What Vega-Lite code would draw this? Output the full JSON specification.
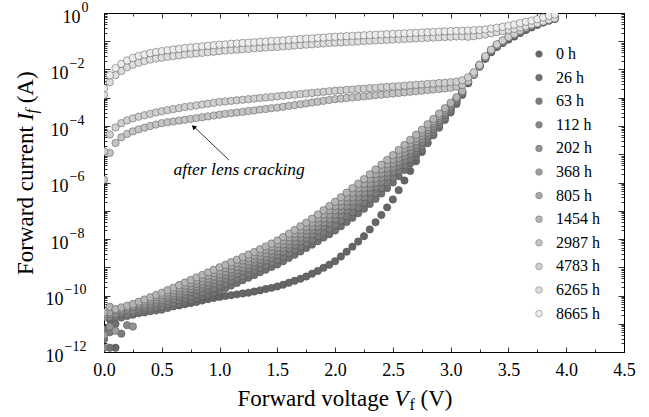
{
  "$schema": "https://vega.github.io/schema/vega-lite/v6.json",
  "width": 520,
  "height": 339,
  "autosize": "none",
  "padding": {"left": 104, "top": 13, "right": 25, "bottom": 65},
  "datasets": {
    "iv": [
{"h":0,"v":0,"lg":-11.3},{"h":0,"v":0.05,"lg":-10.85},{"h":0,"v":0.1,"lg":-11.85},{"h":0,"v":0.15,"lg":-10.7},{"h":0,"v":0.2,"lg":-10.65},{"h":0,"v":0.25,"lg":-10.62},{"h":0,"v":0.3,"lg":-10.58},{"h":0,"v":0.35,"lg":-10.55},{"h":0,"v":0.4,"lg":-10.51},{"h":0,"v":0.45,"lg":-10.48},{"h":0,"v":0.5,"lg":-10.45},{"h":0,"v":0.55,"lg":-10.42},{"h":0,"v":0.6,"lg":-10.38},{"h":0,"v":0.65,"lg":-10.35},{"h":0,"v":0.7,"lg":-10.31},{"h":0,"v":0.75,"lg":-10.27},{"h":0,"v":0.8,"lg":-10.23},{"h":0,"v":0.85,"lg":-10.18},{"h":0,"v":0.9,"lg":-10.13},{"h":0,"v":0.95,"lg":-10.09},{"h":0,"v":1,"lg":-10.05},{"h":0,"v":1.05,"lg":-10.02},{"h":0,"v":1.1,"lg":-9.99},{"h":0,"v":1.15,"lg":-9.96},{"h":0,"v":1.2,"lg":-9.93},{"h":0,"v":1.25,"lg":-9.9},{"h":0,"v":1.3,"lg":-9.86},{"h":0,"v":1.35,"lg":-9.82},{"h":0,"v":1.4,"lg":-9.77},{"h":0,"v":1.45,"lg":-9.73},{"h":0,"v":1.5,"lg":-9.68},{"h":0,"v":1.55,"lg":-9.62},{"h":0,"v":1.6,"lg":-9.55},{"h":0,"v":1.65,"lg":-9.48},{"h":0,"v":1.7,"lg":-9.41},{"h":0,"v":1.75,"lg":-9.33},{"h":0,"v":1.8,"lg":-9.23},{"h":0,"v":1.85,"lg":-9.13},{"h":0,"v":1.9,"lg":-9.02},{"h":0,"v":1.95,"lg":-8.91},{"h":0,"v":2,"lg":-8.79},{"h":0,"v":2.05,"lg":-8.62},{"h":0,"v":2.1,"lg":-8.45},{"h":0,"v":2.15,"lg":-8.27},{"h":0,"v":2.2,"lg":-8.09},{"h":0,"v":2.25,"lg":-7.9},{"h":0,"v":2.3,"lg":-7.66},{"h":0,"v":2.35,"lg":-7.41},{"h":0,"v":2.4,"lg":-7.15},{"h":0,"v":2.45,"lg":-6.88},{"h":0,"v":2.5,"lg":-6.6},{"h":0,"v":2.55,"lg":-6.27},{"h":0,"v":2.6,"lg":-5.93},{"h":0,"v":2.65,"lg":-5.59},{"h":0,"v":2.7,"lg":-5.25},{"h":0,"v":2.75,"lg":-4.92},{"h":0,"v":2.8,"lg":-4.6},{"h":0,"v":2.85,"lg":-4.29},{"h":0,"v":2.9,"lg":-3.99},{"h":0,"v":2.95,"lg":-3.69},{"h":0,"v":3,"lg":-3.4},{"h":0,"v":3.05,"lg":-3.1},{"h":0,"v":3.1,"lg":-2.8},{"h":0,"v":3.15,"lg":-2.49},{"h":0,"v":3.2,"lg":-2.19},{"h":0,"v":3.25,"lg":-1.9},{"h":0,"v":3.3,"lg":-1.62},{"h":0,"v":3.35,"lg":-1.39},{"h":0,"v":3.4,"lg":-1.2},{"h":0,"v":3.45,"lg":-1.06},{"h":0,"v":3.5,"lg":-0.94},{"h":0,"v":3.55,"lg":-0.83},{"h":0,"v":3.6,"lg":-0.71},{"h":0,"v":3.65,"lg":-0.6},{"h":0,"v":3.7,"lg":-0.51},{"h":0,"v":3.75,"lg":-0.42},{"h":0,"v":3.8,"lg":-0.34},{"h":0,"v":3.85,"lg":-0.27},{"h":0,"v":3.9,"lg":-0.21},
{"h":26,"v":0,"lg":-11.55},{"h":26,"v":0.05,"lg":-11.85},{"h":26,"v":0.1,"lg":-11.0},{"h":26,"v":0.15,"lg":-10.78},{"h":26,"v":0.2,"lg":-10.73},{"h":26,"v":0.25,"lg":-10.68},{"h":26,"v":0.3,"lg":-10.63},{"h":26,"v":0.35,"lg":-10.6},{"h":26,"v":0.4,"lg":-10.56},{"h":26,"v":0.45,"lg":-10.53},{"h":26,"v":0.5,"lg":-10.5},{"h":26,"v":0.55,"lg":-10.44},{"h":26,"v":0.6,"lg":-10.38},{"h":26,"v":0.65,"lg":-10.31},{"h":26,"v":0.7,"lg":-10.24},{"h":26,"v":0.75,"lg":-10.17},{"h":26,"v":0.8,"lg":-10.1},{"h":26,"v":0.85,"lg":-10.03},{"h":26,"v":0.9,"lg":-9.96},{"h":26,"v":0.95,"lg":-9.9},{"h":26,"v":1,"lg":-9.83},{"h":26,"v":1.05,"lg":-9.74},{"h":26,"v":1.1,"lg":-9.65},{"h":26,"v":1.15,"lg":-9.56},{"h":26,"v":1.2,"lg":-9.46},{"h":26,"v":1.25,"lg":-9.37},{"h":26,"v":1.3,"lg":-9.28},{"h":26,"v":1.35,"lg":-9.18},{"h":26,"v":1.4,"lg":-9.09},{"h":26,"v":1.45,"lg":-8.99},{"h":26,"v":1.5,"lg":-8.9},{"h":26,"v":1.55,"lg":-8.79},{"h":26,"v":1.6,"lg":-8.67},{"h":26,"v":1.65,"lg":-8.56},{"h":26,"v":1.7,"lg":-8.44},{"h":26,"v":1.75,"lg":-8.32},{"h":26,"v":1.8,"lg":-8.2},{"h":26,"v":1.85,"lg":-8.08},{"h":26,"v":1.9,"lg":-7.95},{"h":26,"v":1.95,"lg":-7.83},{"h":26,"v":2,"lg":-7.7},{"h":26,"v":2.05,"lg":-7.55},{"h":26,"v":2.1,"lg":-7.4},{"h":26,"v":2.15,"lg":-7.25},{"h":26,"v":2.2,"lg":-7.09},{"h":26,"v":2.25,"lg":-6.93},{"h":26,"v":2.3,"lg":-6.76},{"h":26,"v":2.35,"lg":-6.58},{"h":26,"v":2.4,"lg":-6.39},{"h":26,"v":2.45,"lg":-6.2},{"h":26,"v":2.5,"lg":-6.0},{"h":26,"v":2.55,"lg":-5.78},{"h":26,"v":2.6,"lg":-5.56},{"h":26,"v":2.65,"lg":-5.33},{"h":26,"v":2.7,"lg":-5.1},{"h":26,"v":2.75,"lg":-4.86},{"h":26,"v":2.8,"lg":-4.6},{"h":26,"v":2.85,"lg":-4.33},{"h":26,"v":2.9,"lg":-4.06},{"h":26,"v":2.95,"lg":-3.79},{"h":26,"v":3,"lg":-3.52},{"h":26,"v":3.05,"lg":-3.22},{"h":26,"v":3.1,"lg":-2.9},{"h":26,"v":3.15,"lg":-2.48},{"h":26,"v":3.2,"lg":-2.18},{"h":26,"v":3.25,"lg":-1.89},{"h":26,"v":3.3,"lg":-1.61},{"h":26,"v":3.35,"lg":-1.38},{"h":26,"v":3.4,"lg":-1.19},{"h":26,"v":3.45,"lg":-1.05},{"h":26,"v":3.5,"lg":-0.93},{"h":26,"v":3.55,"lg":-0.82},{"h":26,"v":3.6,"lg":-0.7},{"h":26,"v":3.65,"lg":-0.59},{"h":26,"v":3.7,"lg":-0.5},{"h":26,"v":3.75,"lg":-0.41},{"h":26,"v":3.8,"lg":-0.33},{"h":26,"v":3.85,"lg":-0.26},{"h":26,"v":3.9,"lg":-0.2},
{"h":63,"v":0,"lg":-11.2},{"h":63,"v":0.05,"lg":-11.3},{"h":63,"v":0.1,"lg":-10.77},{"h":63,"v":0.15,"lg":-11.35},{"h":63,"v":0.2,"lg":-10.66},{"h":63,"v":0.25,"lg":-10.6},{"h":63,"v":0.3,"lg":-10.55},{"h":63,"v":0.35,"lg":-10.51},{"h":63,"v":0.4,"lg":-10.46},{"h":63,"v":0.45,"lg":-10.42},{"h":63,"v":0.5,"lg":-10.38},{"h":63,"v":0.55,"lg":-10.31},{"h":63,"v":0.6,"lg":-10.25},{"h":63,"v":0.65,"lg":-10.17},{"h":63,"v":0.7,"lg":-10.1},{"h":63,"v":0.75,"lg":-10.03},{"h":63,"v":0.8,"lg":-9.95},{"h":63,"v":0.85,"lg":-9.88},{"h":63,"v":0.9,"lg":-9.8},{"h":63,"v":0.95,"lg":-9.74},{"h":63,"v":1,"lg":-9.66},{"h":63,"v":1.05,"lg":-9.57},{"h":63,"v":1.1,"lg":-9.48},{"h":63,"v":1.15,"lg":-9.39},{"h":63,"v":1.2,"lg":-9.3},{"h":63,"v":1.25,"lg":-9.21},{"h":63,"v":1.3,"lg":-9.12},{"h":63,"v":1.35,"lg":-9.02},{"h":63,"v":1.4,"lg":-8.92},{"h":63,"v":1.45,"lg":-8.82},{"h":63,"v":1.5,"lg":-8.73},{"h":63,"v":1.55,"lg":-8.62},{"h":63,"v":1.6,"lg":-8.5},{"h":63,"v":1.65,"lg":-8.38},{"h":63,"v":1.7,"lg":-8.26},{"h":63,"v":1.75,"lg":-8.14},{"h":63,"v":1.8,"lg":-8.02},{"h":63,"v":1.85,"lg":-7.89},{"h":63,"v":1.9,"lg":-7.76},{"h":63,"v":1.95,"lg":-7.63},{"h":63,"v":2,"lg":-7.5},{"h":63,"v":2.05,"lg":-7.34},{"h":63,"v":2.1,"lg":-7.19},{"h":63,"v":2.15,"lg":-7.04},{"h":63,"v":2.2,"lg":-6.88},{"h":63,"v":2.25,"lg":-6.72},{"h":63,"v":2.3,"lg":-6.55},{"h":63,"v":2.35,"lg":-6.37},{"h":63,"v":2.4,"lg":-6.19},{"h":63,"v":2.45,"lg":-6.0},{"h":63,"v":2.5,"lg":-5.81},{"h":63,"v":2.55,"lg":-5.59},{"h":63,"v":2.6,"lg":-5.38},{"h":63,"v":2.65,"lg":-5.16},{"h":63,"v":2.7,"lg":-4.94},{"h":63,"v":2.75,"lg":-4.71},{"h":63,"v":2.8,"lg":-4.47},{"h":63,"v":2.85,"lg":-4.21},{"h":63,"v":2.9,"lg":-3.96},{"h":63,"v":2.95,"lg":-3.71},{"h":63,"v":3,"lg":-3.45},{"h":63,"v":3.05,"lg":-3.17},{"h":63,"v":3.1,"lg":-2.87},{"h":63,"v":3.15,"lg":-2.47},{"h":63,"v":3.2,"lg":-2.17},{"h":63,"v":3.25,"lg":-1.88},{"h":63,"v":3.3,"lg":-1.6},{"h":63,"v":3.35,"lg":-1.37},{"h":63,"v":3.4,"lg":-1.18},{"h":63,"v":3.45,"lg":-1.04},{"h":63,"v":3.5,"lg":-0.92},{"h":63,"v":3.55,"lg":-0.81},{"h":63,"v":3.6,"lg":-0.69},{"h":63,"v":3.65,"lg":-0.58},{"h":63,"v":3.7,"lg":-0.49},{"h":63,"v":3.75,"lg":-0.4},{"h":63,"v":3.8,"lg":-0.32},{"h":63,"v":3.85,"lg":-0.25},{"h":63,"v":3.9,"lg":-0.19},
{"h":112,"v":0,"lg":-11.85},{"h":112,"v":0.05,"lg":-10.76},{"h":112,"v":0.1,"lg":-10.7},{"h":112,"v":0.15,"lg":-10.64},{"h":112,"v":0.2,"lg":-11.05},{"h":112,"v":0.25,"lg":-10.53},{"h":112,"v":0.3,"lg":-10.47},{"h":112,"v":0.35,"lg":-10.42},{"h":112,"v":0.4,"lg":-10.36},{"h":112,"v":0.45,"lg":-10.31},{"h":112,"v":0.5,"lg":-10.26},{"h":112,"v":0.55,"lg":-10.19},{"h":112,"v":0.6,"lg":-10.12},{"h":112,"v":0.65,"lg":-10.04},{"h":112,"v":0.7,"lg":-9.96},{"h":112,"v":0.75,"lg":-9.88},{"h":112,"v":0.8,"lg":-9.8},{"h":112,"v":0.85,"lg":-9.73},{"h":112,"v":0.9,"lg":-9.65},{"h":112,"v":0.95,"lg":-9.58},{"h":112,"v":1,"lg":-9.5},{"h":112,"v":1.05,"lg":-9.41},{"h":112,"v":1.1,"lg":-9.32},{"h":112,"v":1.15,"lg":-9.23},{"h":112,"v":1.2,"lg":-9.13},{"h":112,"v":1.25,"lg":-9.04},{"h":112,"v":1.3,"lg":-8.95},{"h":112,"v":1.35,"lg":-8.85},{"h":112,"v":1.4,"lg":-8.76},{"h":112,"v":1.45,"lg":-8.66},{"h":112,"v":1.5,"lg":-8.56},{"h":112,"v":1.55,"lg":-8.45},{"h":112,"v":1.6,"lg":-8.33},{"h":112,"v":1.65,"lg":-8.21},{"h":112,"v":1.7,"lg":-8.08},{"h":112,"v":1.75,"lg":-7.96},{"h":112,"v":1.8,"lg":-7.83},{"h":112,"v":1.85,"lg":-7.7},{"h":112,"v":1.9,"lg":-7.56},{"h":112,"v":1.95,"lg":-7.43},{"h":112,"v":2,"lg":-7.29},{"h":112,"v":2.05,"lg":-7.14},{"h":112,"v":2.1,"lg":-6.98},{"h":112,"v":2.15,"lg":-6.83},{"h":112,"v":2.2,"lg":-6.67},{"h":112,"v":2.25,"lg":-6.51},{"h":112,"v":2.3,"lg":-6.34},{"h":112,"v":2.35,"lg":-6.16},{"h":112,"v":2.4,"lg":-5.98},{"h":112,"v":2.45,"lg":-5.8},{"h":112,"v":2.5,"lg":-5.61},{"h":112,"v":2.55,"lg":-5.41},{"h":112,"v":2.6,"lg":-5.2},{"h":112,"v":2.65,"lg":-4.99},{"h":112,"v":2.7,"lg":-4.78},{"h":112,"v":2.75,"lg":-4.57},{"h":112,"v":2.8,"lg":-4.34},{"h":112,"v":2.85,"lg":-4.1},{"h":112,"v":2.9,"lg":-3.86},{"h":112,"v":2.95,"lg":-3.62},{"h":112,"v":3,"lg":-3.38},{"h":112,"v":3.05,"lg":-3.12},{"h":112,"v":3.1,"lg":-2.84},{"h":112,"v":3.15,"lg":-2.46},{"h":112,"v":3.2,"lg":-2.16},{"h":112,"v":3.25,"lg":-1.87},{"h":112,"v":3.3,"lg":-1.59},{"h":112,"v":3.35,"lg":-1.36},{"h":112,"v":3.4,"lg":-1.17},{"h":112,"v":3.45,"lg":-1.03},{"h":112,"v":3.5,"lg":-0.91},{"h":112,"v":3.55,"lg":-0.8},{"h":112,"v":3.6,"lg":-0.68},{"h":112,"v":3.65,"lg":-0.57},{"h":112,"v":3.7,"lg":-0.48},{"h":112,"v":3.75,"lg":-0.39},{"h":112,"v":3.8,"lg":-0.31},{"h":112,"v":3.85,"lg":-0.24},{"h":112,"v":3.9,"lg":-0.18},
{"h":202,"v":0,"lg":-10.76},{"h":202,"v":0.05,"lg":-11.1},{"h":202,"v":0.1,"lg":-10.64},{"h":202,"v":0.15,"lg":-10.58},{"h":202,"v":0.2,"lg":-10.53},{"h":202,"v":0.25,"lg":-11.1},{"h":202,"v":0.3,"lg":-10.4},{"h":202,"v":0.35,"lg":-10.35},{"h":202,"v":0.4,"lg":-10.29},{"h":202,"v":0.45,"lg":-10.23},{"h":202,"v":0.5,"lg":-10.17},{"h":202,"v":0.55,"lg":-10.09},{"h":202,"v":0.6,"lg":-10.02},{"h":202,"v":0.65,"lg":-9.94},{"h":202,"v":0.7,"lg":-9.86},{"h":202,"v":0.75,"lg":-9.77},{"h":202,"v":0.8,"lg":-9.69},{"h":202,"v":0.85,"lg":-9.61},{"h":202,"v":0.9,"lg":-9.53},{"h":202,"v":0.95,"lg":-9.45},{"h":202,"v":1,"lg":-9.37},{"h":202,"v":1.05,"lg":-9.28},{"h":202,"v":1.1,"lg":-9.19},{"h":202,"v":1.15,"lg":-9.1},{"h":202,"v":1.2,"lg":-9.01},{"h":202,"v":1.25,"lg":-8.92},{"h":202,"v":1.3,"lg":-8.83},{"h":202,"v":1.35,"lg":-8.73},{"h":202,"v":1.4,"lg":-8.63},{"h":202,"v":1.45,"lg":-8.53},{"h":202,"v":1.5,"lg":-8.43},{"h":202,"v":1.55,"lg":-8.32},{"h":202,"v":1.6,"lg":-8.2},{"h":202,"v":1.65,"lg":-8.08},{"h":202,"v":1.7,"lg":-7.95},{"h":202,"v":1.75,"lg":-7.83},{"h":202,"v":1.8,"lg":-7.69},{"h":202,"v":1.85,"lg":-7.56},{"h":202,"v":1.9,"lg":-7.42},{"h":202,"v":1.95,"lg":-7.28},{"h":202,"v":2,"lg":-7.14},{"h":202,"v":2.05,"lg":-6.98},{"h":202,"v":2.1,"lg":-6.83},{"h":202,"v":2.15,"lg":-6.67},{"h":202,"v":2.2,"lg":-6.51},{"h":202,"v":2.25,"lg":-6.35},{"h":202,"v":2.3,"lg":-6.18},{"h":202,"v":2.35,"lg":-6.01},{"h":202,"v":2.4,"lg":-5.83},{"h":202,"v":2.45,"lg":-5.65},{"h":202,"v":2.5,"lg":-5.47},{"h":202,"v":2.55,"lg":-5.27},{"h":202,"v":2.6,"lg":-5.07},{"h":202,"v":2.65,"lg":-4.87},{"h":202,"v":2.7,"lg":-4.67},{"h":202,"v":2.75,"lg":-4.46},{"h":202,"v":2.8,"lg":-4.24},{"h":202,"v":2.85,"lg":-4.01},{"h":202,"v":2.9,"lg":-3.79},{"h":202,"v":2.95,"lg":-3.56},{"h":202,"v":3,"lg":-3.33},{"h":202,"v":3.05,"lg":-3.09},{"h":202,"v":3.1,"lg":-2.82},{"h":202,"v":3.15,"lg":-2.45},{"h":202,"v":3.2,"lg":-2.15},{"h":202,"v":3.25,"lg":-1.86},{"h":202,"v":3.3,"lg":-1.58},{"h":202,"v":3.35,"lg":-1.35},{"h":202,"v":3.4,"lg":-1.16},{"h":202,"v":3.45,"lg":-1.02},{"h":202,"v":3.5,"lg":-0.9},{"h":202,"v":3.55,"lg":-0.79},{"h":202,"v":3.6,"lg":-0.67},{"h":202,"v":3.65,"lg":-0.56},{"h":202,"v":3.7,"lg":-0.47},{"h":202,"v":3.75,"lg":-0.38},{"h":202,"v":3.8,"lg":-0.3},{"h":202,"v":3.85,"lg":-0.23},{"h":202,"v":3.9,"lg":-0.17},
{"h":368,"v":0,"lg":-11.4},{"h":368,"v":0.05,"lg":-10.65},{"h":368,"v":0.1,"lg":-11.25},{"h":368,"v":0.15,"lg":-10.53},{"h":368,"v":0.2,"lg":-10.47},{"h":368,"v":0.25,"lg":-10.41},{"h":368,"v":0.3,"lg":-10.34},{"h":368,"v":0.35,"lg":-10.28},{"h":368,"v":0.4,"lg":-10.21},{"h":368,"v":0.45,"lg":-10.15},{"h":368,"v":0.5,"lg":-10.08},{"h":368,"v":0.55,"lg":-10.0},{"h":368,"v":0.6,"lg":-9.92},{"h":368,"v":0.65,"lg":-9.83},{"h":368,"v":0.7,"lg":-9.75},{"h":368,"v":0.75,"lg":-9.67},{"h":368,"v":0.8,"lg":-9.58},{"h":368,"v":0.85,"lg":-9.5},{"h":368,"v":0.9,"lg":-9.41},{"h":368,"v":0.95,"lg":-9.33},{"h":368,"v":1,"lg":-9.25},{"h":368,"v":1.05,"lg":-9.16},{"h":368,"v":1.1,"lg":-9.07},{"h":368,"v":1.15,"lg":-8.98},{"h":368,"v":1.2,"lg":-8.89},{"h":368,"v":1.25,"lg":-8.8},{"h":368,"v":1.3,"lg":-8.71},{"h":368,"v":1.35,"lg":-8.61},{"h":368,"v":1.4,"lg":-8.51},{"h":368,"v":1.45,"lg":-8.41},{"h":368,"v":1.5,"lg":-8.31},{"h":368,"v":1.55,"lg":-8.19},{"h":368,"v":1.6,"lg":-8.07},{"h":368,"v":1.65,"lg":-7.94},{"h":368,"v":1.7,"lg":-7.82},{"h":368,"v":1.75,"lg":-7.69},{"h":368,"v":1.8,"lg":-7.56},{"h":368,"v":1.85,"lg":-7.42},{"h":368,"v":1.9,"lg":-7.27},{"h":368,"v":1.95,"lg":-7.13},{"h":368,"v":2,"lg":-6.99},{"h":368,"v":2.05,"lg":-6.83},{"h":368,"v":2.1,"lg":-6.67},{"h":368,"v":2.15,"lg":-6.52},{"h":368,"v":2.2,"lg":-6.36},{"h":368,"v":2.25,"lg":-6.2},{"h":368,"v":2.3,"lg":-6.03},{"h":368,"v":2.35,"lg":-5.85},{"h":368,"v":2.4,"lg":-5.68},{"h":368,"v":2.45,"lg":-5.5},{"h":368,"v":2.5,"lg":-5.32},{"h":368,"v":2.55,"lg":-5.13},{"h":368,"v":2.6,"lg":-4.94},{"h":368,"v":2.65,"lg":-4.74},{"h":368,"v":2.7,"lg":-4.55},{"h":368,"v":2.75,"lg":-4.35},{"h":368,"v":2.8,"lg":-4.14},{"h":368,"v":2.85,"lg":-3.92},{"h":368,"v":2.9,"lg":-3.71},{"h":368,"v":2.95,"lg":-3.5},{"h":368,"v":3,"lg":-3.28},{"h":368,"v":3.05,"lg":-3.05},{"h":368,"v":3.1,"lg":-2.8},{"h":368,"v":3.15,"lg":-2.44},{"h":368,"v":3.2,"lg":-2.14},{"h":368,"v":3.25,"lg":-1.85},{"h":368,"v":3.3,"lg":-1.57},{"h":368,"v":3.35,"lg":-1.34},{"h":368,"v":3.4,"lg":-1.15},{"h":368,"v":3.45,"lg":-1.01},{"h":368,"v":3.5,"lg":-0.89},{"h":368,"v":3.55,"lg":-0.78},{"h":368,"v":3.6,"lg":-0.66},{"h":368,"v":3.65,"lg":-0.55},{"h":368,"v":3.7,"lg":-0.46},{"h":368,"v":3.75,"lg":-0.37},{"h":368,"v":3.8,"lg":-0.29},{"h":368,"v":3.85,"lg":-0.22},{"h":368,"v":3.9,"lg":-0.16},
{"h":805,"v":0,"lg":-10.65},{"h":805,"v":0.05,"lg":-10.59},{"h":805,"v":0.1,"lg":-10.53},{"h":805,"v":0.15,"lg":-10.47},{"h":805,"v":0.2,"lg":-10.42},{"h":805,"v":0.25,"lg":-10.36},{"h":805,"v":0.3,"lg":-10.28},{"h":805,"v":0.35,"lg":-10.21},{"h":805,"v":0.4,"lg":-10.14},{"h":805,"v":0.45,"lg":-10.06},{"h":805,"v":0.5,"lg":-9.99},{"h":805,"v":0.55,"lg":-9.9},{"h":805,"v":0.6,"lg":-9.82},{"h":805,"v":0.65,"lg":-9.73},{"h":805,"v":0.7,"lg":-9.65},{"h":805,"v":0.75,"lg":-9.56},{"h":805,"v":0.8,"lg":-9.47},{"h":805,"v":0.85,"lg":-9.38},{"h":805,"v":0.9,"lg":-9.3},{"h":805,"v":0.95,"lg":-9.21},{"h":805,"v":1,"lg":-9.12},{"h":805,"v":1.05,"lg":-9.03},{"h":805,"v":1.1,"lg":-8.94},{"h":805,"v":1.15,"lg":-8.85},{"h":805,"v":1.2,"lg":-8.76},{"h":805,"v":1.25,"lg":-8.67},{"h":805,"v":1.3,"lg":-8.58},{"h":805,"v":1.35,"lg":-8.48},{"h":805,"v":1.4,"lg":-8.38},{"h":805,"v":1.45,"lg":-8.28},{"h":805,"v":1.5,"lg":-8.18},{"h":805,"v":1.55,"lg":-8.06},{"h":805,"v":1.6,"lg":-7.94},{"h":805,"v":1.65,"lg":-7.81},{"h":805,"v":1.7,"lg":-7.68},{"h":805,"v":1.75,"lg":-7.56},{"h":805,"v":1.8,"lg":-7.42},{"h":805,"v":1.85,"lg":-7.27},{"h":805,"v":1.9,"lg":-7.13},{"h":805,"v":1.95,"lg":-6.98},{"h":805,"v":2,"lg":-6.83},{"h":805,"v":2.05,"lg":-6.67},{"h":805,"v":2.1,"lg":-6.52},{"h":805,"v":2.15,"lg":-6.36},{"h":805,"v":2.2,"lg":-6.2},{"h":805,"v":2.25,"lg":-6.04},{"h":805,"v":2.3,"lg":-5.87},{"h":805,"v":2.35,"lg":-5.7},{"h":805,"v":2.4,"lg":-5.52},{"h":805,"v":2.45,"lg":-5.35},{"h":805,"v":2.5,"lg":-5.18},{"h":805,"v":2.55,"lg":-4.99},{"h":805,"v":2.6,"lg":-4.8},{"h":805,"v":2.65,"lg":-4.62},{"h":805,"v":2.7,"lg":-4.43},{"h":805,"v":2.75,"lg":-4.24},{"h":805,"v":2.8,"lg":-4.04},{"h":805,"v":2.85,"lg":-3.84},{"h":805,"v":2.9,"lg":-3.64},{"h":805,"v":2.95,"lg":-3.43},{"h":805,"v":3,"lg":-3.23},{"h":805,"v":3.05,"lg":-3.02},{"h":805,"v":3.1,"lg":-2.78},{"h":805,"v":3.15,"lg":-2.43},{"h":805,"v":3.2,"lg":-2.13},{"h":805,"v":3.25,"lg":-1.84},{"h":805,"v":3.3,"lg":-1.56},{"h":805,"v":3.35,"lg":-1.33},{"h":805,"v":3.4,"lg":-1.14},{"h":805,"v":3.45,"lg":-1.0},{"h":805,"v":3.5,"lg":-0.88},{"h":805,"v":3.55,"lg":-0.77},{"h":805,"v":3.6,"lg":-0.65},{"h":805,"v":3.65,"lg":-0.54},{"h":805,"v":3.7,"lg":-0.45},{"h":805,"v":3.75,"lg":-0.36},{"h":805,"v":3.8,"lg":-0.28},{"h":805,"v":3.85,"lg":-0.21},{"h":805,"v":3.9,"lg":-0.15},
{"h":1454,"v":0,"lg":-10.6},{"h":1454,"v":0.05,"lg":-10.4},{"h":1454,"v":0.1,"lg":-10.48},{"h":1454,"v":0.15,"lg":-10.42},{"h":1454,"v":0.2,"lg":-10.36},{"h":1454,"v":0.25,"lg":-10.3},{"h":1454,"v":0.3,"lg":-10.22},{"h":1454,"v":0.35,"lg":-10.14},{"h":1454,"v":0.4,"lg":-10.06},{"h":1454,"v":0.45,"lg":-9.98},{"h":1454,"v":0.5,"lg":-9.9},{"h":1454,"v":0.55,"lg":-9.81},{"h":1454,"v":0.6,"lg":-9.72},{"h":1454,"v":0.65,"lg":-9.63},{"h":1454,"v":0.7,"lg":-9.54},{"h":1454,"v":0.75,"lg":-9.45},{"h":1454,"v":0.8,"lg":-9.36},{"h":1454,"v":0.85,"lg":-9.27},{"h":1454,"v":0.9,"lg":-9.18},{"h":1454,"v":0.95,"lg":-9.09},{"h":1454,"v":1,"lg":-9.0},{"h":1454,"v":1.05,"lg":-8.91},{"h":1454,"v":1.1,"lg":-8.82},{"h":1454,"v":1.15,"lg":-8.73},{"h":1454,"v":1.2,"lg":-8.64},{"h":1454,"v":1.25,"lg":-8.55},{"h":1454,"v":1.3,"lg":-8.46},{"h":1454,"v":1.35,"lg":-8.36},{"h":1454,"v":1.4,"lg":-8.26},{"h":1454,"v":1.45,"lg":-8.16},{"h":1454,"v":1.5,"lg":-8.05},{"h":1454,"v":1.55,"lg":-7.93},{"h":1454,"v":1.6,"lg":-7.81},{"h":1454,"v":1.65,"lg":-7.68},{"h":1454,"v":1.7,"lg":-7.55},{"h":1454,"v":1.75,"lg":-7.42},{"h":1454,"v":1.8,"lg":-7.28},{"h":1454,"v":1.85,"lg":-7.13},{"h":1454,"v":1.9,"lg":-6.98},{"h":1454,"v":1.95,"lg":-6.83},{"h":1454,"v":2,"lg":-6.68},{"h":1454,"v":2.05,"lg":-6.52},{"h":1454,"v":2.1,"lg":-6.36},{"h":1454,"v":2.15,"lg":-6.2},{"h":1454,"v":2.2,"lg":-6.04},{"h":1454,"v":2.25,"lg":-5.88},{"h":1454,"v":2.3,"lg":-5.71},{"h":1454,"v":2.35,"lg":-5.54},{"h":1454,"v":2.4,"lg":-5.37},{"h":1454,"v":2.45,"lg":-5.2},{"h":1454,"v":2.5,"lg":-5.03},{"h":1454,"v":2.55,"lg":-4.85},{"h":1454,"v":2.6,"lg":-4.67},{"h":1454,"v":2.65,"lg":-4.49},{"h":1454,"v":2.7,"lg":-4.31},{"h":1454,"v":2.75,"lg":-4.13},{"h":1454,"v":2.8,"lg":-3.94},{"h":1454,"v":2.85,"lg":-3.75},{"h":1454,"v":2.9,"lg":-3.56},{"h":1454,"v":2.95,"lg":-3.37},{"h":1454,"v":3,"lg":-3.18},{"h":1454,"v":3.05,"lg":-2.98},{"h":1454,"v":3.1,"lg":-2.76},{"h":1454,"v":3.15,"lg":-2.42},{"h":1454,"v":3.2,"lg":-2.12},{"h":1454,"v":3.25,"lg":-1.83},{"h":1454,"v":3.3,"lg":-1.55},{"h":1454,"v":3.35,"lg":-1.32},{"h":1454,"v":3.4,"lg":-1.13},{"h":1454,"v":3.45,"lg":-0.99},{"h":1454,"v":3.5,"lg":-0.87},{"h":1454,"v":3.55,"lg":-0.76},{"h":1454,"v":3.6,"lg":-0.64},{"h":1454,"v":3.65,"lg":-0.53},{"h":1454,"v":3.7,"lg":-0.44},{"h":1454,"v":3.75,"lg":-0.35},{"h":1454,"v":3.8,"lg":-0.27},{"h":1454,"v":3.85,"lg":-0.2},{"h":1454,"v":3.9,"lg":-0.14},
{"h":2987,"v":0,"lg":-5.9},{"h":2987,"v":0.05,"lg":-4.95},{"h":2987,"v":0.1,"lg":-4.6},{"h":2987,"v":0.15,"lg":-4.4},{"h":2987,"v":0.2,"lg":-4.28},{"h":2987,"v":0.25,"lg":-4.19},{"h":2987,"v":0.3,"lg":-4.12},{"h":2987,"v":0.35,"lg":-4.06},{"h":2987,"v":0.4,"lg":-4.0},{"h":2987,"v":0.45,"lg":-3.95},{"h":2987,"v":0.5,"lg":-3.9},{"h":2987,"v":0.55,"lg":-3.87},{"h":2987,"v":0.6,"lg":-3.84},{"h":2987,"v":0.65,"lg":-3.81},{"h":2987,"v":0.7,"lg":-3.78},{"h":2987,"v":0.75,"lg":-3.75},{"h":2987,"v":0.8,"lg":-3.72},{"h":2987,"v":0.85,"lg":-3.69},{"h":2987,"v":0.9,"lg":-3.66},{"h":2987,"v":0.95,"lg":-3.63},{"h":2987,"v":1,"lg":-3.6},{"h":2987,"v":1.05,"lg":-3.57},{"h":2987,"v":1.1,"lg":-3.55},{"h":2987,"v":1.15,"lg":-3.52},{"h":2987,"v":1.2,"lg":-3.5},{"h":2987,"v":1.25,"lg":-3.47},{"h":2987,"v":1.3,"lg":-3.45},{"h":2987,"v":1.35,"lg":-3.42},{"h":2987,"v":1.4,"lg":-3.4},{"h":2987,"v":1.45,"lg":-3.37},{"h":2987,"v":1.5,"lg":-3.35},{"h":2987,"v":1.55,"lg":-3.32},{"h":2987,"v":1.6,"lg":-3.29},{"h":2987,"v":1.65,"lg":-3.26},{"h":2987,"v":1.7,"lg":-3.23},{"h":2987,"v":1.75,"lg":-3.2},{"h":2987,"v":1.8,"lg":-3.17},{"h":2987,"v":1.85,"lg":-3.14},{"h":2987,"v":1.9,"lg":-3.11},{"h":2987,"v":1.95,"lg":-3.08},{"h":2987,"v":2,"lg":-3.05},{"h":2987,"v":2.05,"lg":-3.03},{"h":2987,"v":2.1,"lg":-3.01},{"h":2987,"v":2.15,"lg":-2.99},{"h":2987,"v":2.2,"lg":-2.97},{"h":2987,"v":2.25,"lg":-2.95},{"h":2987,"v":2.3,"lg":-2.93},{"h":2987,"v":2.35,"lg":-2.91},{"h":2987,"v":2.4,"lg":-2.89},{"h":2987,"v":2.45,"lg":-2.87},{"h":2987,"v":2.5,"lg":-2.85},{"h":2987,"v":2.55,"lg":-2.83},{"h":2987,"v":2.6,"lg":-2.81},{"h":2987,"v":2.65,"lg":-2.79},{"h":2987,"v":2.7,"lg":-2.77},{"h":2987,"v":2.75,"lg":-2.75},{"h":2987,"v":2.8,"lg":-2.73},{"h":2987,"v":2.85,"lg":-2.71},{"h":2987,"v":2.9,"lg":-2.69},{"h":2987,"v":2.95,"lg":-2.67},{"h":2987,"v":3,"lg":-2.65},{"h":2987,"v":3.05,"lg":-2.61},{"h":2987,"v":3.1,"lg":-2.55},{"h":2987,"v":3.15,"lg":-2.42},{"h":2987,"v":3.2,"lg":-2.17},{"h":2987,"v":3.25,"lg":-1.88},{"h":2987,"v":3.3,"lg":-1.56},{"h":2987,"v":3.35,"lg":-1.31},{"h":2987,"v":3.4,"lg":-1.12},{"h":2987,"v":3.45,"lg":-0.98},{"h":2987,"v":3.5,"lg":-0.86},{"h":2987,"v":3.55,"lg":-0.75},{"h":2987,"v":3.6,"lg":-0.63},{"h":2987,"v":3.65,"lg":-0.52},{"h":2987,"v":3.7,"lg":-0.43},{"h":2987,"v":3.75,"lg":-0.34},{"h":2987,"v":3.8,"lg":-0.26},{"h":2987,"v":3.85,"lg":-0.19},{"h":2987,"v":3.9,"lg":-0.13},
{"h":4783,"v":0,"lg":-4.9},{"h":4783,"v":0.05,"lg":-4.3},{"h":4783,"v":0.1,"lg":-4.05},{"h":4783,"v":0.15,"lg":-3.9},{"h":4783,"v":0.2,"lg":-3.8},{"h":4783,"v":0.25,"lg":-3.73},{"h":4783,"v":0.3,"lg":-3.67},{"h":4783,"v":0.35,"lg":-3.62},{"h":4783,"v":0.4,"lg":-3.57},{"h":4783,"v":0.45,"lg":-3.52},{"h":4783,"v":0.5,"lg":-3.48},{"h":4783,"v":0.55,"lg":-3.44},{"h":4783,"v":0.6,"lg":-3.4},{"h":4783,"v":0.65,"lg":-3.37},{"h":4783,"v":0.7,"lg":-3.33},{"h":4783,"v":0.75,"lg":-3.3},{"h":4783,"v":0.8,"lg":-3.27},{"h":4783,"v":0.85,"lg":-3.24},{"h":4783,"v":0.9,"lg":-3.21},{"h":4783,"v":0.95,"lg":-3.18},{"h":4783,"v":1,"lg":-3.15},{"h":4783,"v":1.05,"lg":-3.13},{"h":4783,"v":1.1,"lg":-3.11},{"h":4783,"v":1.15,"lg":-3.09},{"h":4783,"v":1.2,"lg":-3.07},{"h":4783,"v":1.25,"lg":-3.05},{"h":4783,"v":1.3,"lg":-3.03},{"h":4783,"v":1.35,"lg":-3.01},{"h":4783,"v":1.4,"lg":-2.99},{"h":4783,"v":1.45,"lg":-2.97},{"h":4783,"v":1.5,"lg":-2.95},{"h":4783,"v":1.55,"lg":-2.93},{"h":4783,"v":1.6,"lg":-2.91},{"h":4783,"v":1.65,"lg":-2.89},{"h":4783,"v":1.7,"lg":-2.87},{"h":4783,"v":1.75,"lg":-2.85},{"h":4783,"v":1.8,"lg":-2.83},{"h":4783,"v":1.85,"lg":-2.81},{"h":4783,"v":1.9,"lg":-2.79},{"h":4783,"v":1.95,"lg":-2.77},{"h":4783,"v":2,"lg":-2.75},{"h":4783,"v":2.05,"lg":-2.74},{"h":4783,"v":2.1,"lg":-2.72},{"h":4783,"v":2.15,"lg":-2.71},{"h":4783,"v":2.2,"lg":-2.69},{"h":4783,"v":2.25,"lg":-2.68},{"h":4783,"v":2.3,"lg":-2.66},{"h":4783,"v":2.35,"lg":-2.65},{"h":4783,"v":2.4,"lg":-2.63},{"h":4783,"v":2.45,"lg":-2.62},{"h":4783,"v":2.5,"lg":-2.6},{"h":4783,"v":2.55,"lg":-2.59},{"h":4783,"v":2.6,"lg":-2.57},{"h":4783,"v":2.65,"lg":-2.56},{"h":4783,"v":2.7,"lg":-2.54},{"h":4783,"v":2.75,"lg":-2.53},{"h":4783,"v":2.8,"lg":-2.51},{"h":4783,"v":2.85,"lg":-2.5},{"h":4783,"v":2.9,"lg":-2.48},{"h":4783,"v":2.95,"lg":-2.47},{"h":4783,"v":3,"lg":-2.45},{"h":4783,"v":3.05,"lg":-2.43},{"h":4783,"v":3.1,"lg":-2.38},{"h":4783,"v":3.15,"lg":-2.28},{"h":4783,"v":3.2,"lg":-2.1},{"h":4783,"v":3.25,"lg":-1.84},{"h":4783,"v":3.3,"lg":-1.53},{"h":4783,"v":3.35,"lg":-1.3},{"h":4783,"v":3.4,"lg":-1.11},{"h":4783,"v":3.45,"lg":-0.97},{"h":4783,"v":3.5,"lg":-0.85},{"h":4783,"v":3.55,"lg":-0.74},{"h":4783,"v":3.6,"lg":-0.62},{"h":4783,"v":3.65,"lg":-0.51},{"h":4783,"v":3.7,"lg":-0.42},{"h":4783,"v":3.75,"lg":-0.33},{"h":4783,"v":3.8,"lg":-0.25},{"h":4783,"v":3.85,"lg":-0.18},{"h":4783,"v":3.9,"lg":-0.12},
{"h":6265,"v":0,"lg":-2.9},{"h":6265,"v":0.05,"lg":-2.45},{"h":6265,"v":0.1,"lg":-2.2},{"h":6265,"v":0.15,"lg":-2.05},{"h":6265,"v":0.2,"lg":-1.92},{"h":6265,"v":0.25,"lg":-1.83},{"h":6265,"v":0.3,"lg":-1.76},{"h":6265,"v":0.35,"lg":-1.7},{"h":6265,"v":0.4,"lg":-1.65},{"h":6265,"v":0.45,"lg":-1.61},{"h":6265,"v":0.5,"lg":-1.58},{"h":6265,"v":0.55,"lg":-1.55},{"h":6265,"v":0.6,"lg":-1.52},{"h":6265,"v":0.65,"lg":-1.5},{"h":6265,"v":0.7,"lg":-1.47},{"h":6265,"v":0.75,"lg":-1.45},{"h":6265,"v":0.8,"lg":-1.43},{"h":6265,"v":0.85,"lg":-1.41},{"h":6265,"v":0.9,"lg":-1.39},{"h":6265,"v":0.95,"lg":-1.37},{"h":6265,"v":1,"lg":-1.35},{"h":6265,"v":1.05,"lg":-1.33},{"h":6265,"v":1.1,"lg":-1.31},{"h":6265,"v":1.15,"lg":-1.3},{"h":6265,"v":1.2,"lg":-1.28},{"h":6265,"v":1.25,"lg":-1.27},{"h":6265,"v":1.3,"lg":-1.25},{"h":6265,"v":1.35,"lg":-1.24},{"h":6265,"v":1.4,"lg":-1.22},{"h":6265,"v":1.45,"lg":-1.21},{"h":6265,"v":1.5,"lg":-1.2},{"h":6265,"v":1.55,"lg":-1.18},{"h":6265,"v":1.6,"lg":-1.17},{"h":6265,"v":1.65,"lg":-1.15},{"h":6265,"v":1.7,"lg":-1.14},{"h":6265,"v":1.75,"lg":-1.12},{"h":6265,"v":1.8,"lg":-1.11},{"h":6265,"v":1.85,"lg":-1.09},{"h":6265,"v":1.9,"lg":-1.08},{"h":6265,"v":1.95,"lg":-1.06},{"h":6265,"v":2,"lg":-1.05},{"h":6265,"v":2.05,"lg":-1.04},{"h":6265,"v":2.1,"lg":-1.03},{"h":6265,"v":2.15,"lg":-1.02},{"h":6265,"v":2.2,"lg":-1.01},{"h":6265,"v":2.25,"lg":-0.99},{"h":6265,"v":2.3,"lg":-0.98},{"h":6265,"v":2.35,"lg":-0.97},{"h":6265,"v":2.4,"lg":-0.96},{"h":6265,"v":2.45,"lg":-0.95},{"h":6265,"v":2.5,"lg":-0.94},{"h":6265,"v":2.55,"lg":-0.93},{"h":6265,"v":2.6,"lg":-0.92},{"h":6265,"v":2.65,"lg":-0.91},{"h":6265,"v":2.7,"lg":-0.9},{"h":6265,"v":2.75,"lg":-0.89},{"h":6265,"v":2.8,"lg":-0.88},{"h":6265,"v":2.85,"lg":-0.87},{"h":6265,"v":2.9,"lg":-0.86},{"h":6265,"v":2.95,"lg":-0.85},{"h":6265,"v":3,"lg":-0.84},{"h":6265,"v":3.05,"lg":-0.83},{"h":6265,"v":3.1,"lg":-0.83},{"h":6265,"v":3.15,"lg":-0.84},{"h":6265,"v":3.2,"lg":-0.82},{"h":6265,"v":3.25,"lg":-0.79},{"h":6265,"v":3.3,"lg":-0.76},{"h":6265,"v":3.35,"lg":-0.72},{"h":6265,"v":3.4,"lg":-0.68},{"h":6265,"v":3.45,"lg":-0.64},{"h":6265,"v":3.5,"lg":-0.6},{"h":6265,"v":3.55,"lg":-0.56},{"h":6265,"v":3.6,"lg":-0.51},{"h":6265,"v":3.65,"lg":-0.46},{"h":6265,"v":3.7,"lg":-0.41},{"h":6265,"v":3.75,"lg":-0.36},{"h":6265,"v":3.8,"lg":-0.3},{"h":6265,"v":3.85,"lg":-0.24},{"h":6265,"v":3.9,"lg":-0.19},
{"h":8665,"v":0,"lg":-2.66},{"h":8665,"v":0.05,"lg":-2.2},{"h":8665,"v":0.1,"lg":-1.95},{"h":8665,"v":0.15,"lg":-1.8},{"h":8665,"v":0.2,"lg":-1.68},{"h":8665,"v":0.25,"lg":-1.59},{"h":8665,"v":0.3,"lg":-1.52},{"h":8665,"v":0.35,"lg":-1.47},{"h":8665,"v":0.4,"lg":-1.42},{"h":8665,"v":0.45,"lg":-1.38},{"h":8665,"v":0.5,"lg":-1.35},{"h":8665,"v":0.55,"lg":-1.32},{"h":8665,"v":0.6,"lg":-1.29},{"h":8665,"v":0.65,"lg":-1.27},{"h":8665,"v":0.7,"lg":-1.24},{"h":8665,"v":0.75,"lg":-1.22},{"h":8665,"v":0.8,"lg":-1.2},{"h":8665,"v":0.85,"lg":-1.18},{"h":8665,"v":0.9,"lg":-1.16},{"h":8665,"v":0.95,"lg":-1.14},{"h":8665,"v":1,"lg":-1.12},{"h":8665,"v":1.05,"lg":-1.11},{"h":8665,"v":1.1,"lg":-1.09},{"h":8665,"v":1.15,"lg":-1.08},{"h":8665,"v":1.2,"lg":-1.06},{"h":8665,"v":1.25,"lg":-1.05},{"h":8665,"v":1.3,"lg":-1.04},{"h":8665,"v":1.35,"lg":-1.02},{"h":8665,"v":1.4,"lg":-1.01},{"h":8665,"v":1.45,"lg":-0.99},{"h":8665,"v":1.5,"lg":-0.98},{"h":8665,"v":1.55,"lg":-0.97},{"h":8665,"v":1.6,"lg":-0.95},{"h":8665,"v":1.65,"lg":-0.94},{"h":8665,"v":1.7,"lg":-0.92},{"h":8665,"v":1.75,"lg":-0.91},{"h":8665,"v":1.8,"lg":-0.9},{"h":8665,"v":1.85,"lg":-0.88},{"h":8665,"v":1.9,"lg":-0.87},{"h":8665,"v":1.95,"lg":-0.85},{"h":8665,"v":2,"lg":-0.84},{"h":8665,"v":2.05,"lg":-0.83},{"h":8665,"v":2.1,"lg":-0.82},{"h":8665,"v":2.15,"lg":-0.81},{"h":8665,"v":2.2,"lg":-0.8},{"h":8665,"v":2.25,"lg":-0.79},{"h":8665,"v":2.3,"lg":-0.78},{"h":8665,"v":2.35,"lg":-0.77},{"h":8665,"v":2.4,"lg":-0.76},{"h":8665,"v":2.45,"lg":-0.75},{"h":8665,"v":2.5,"lg":-0.74},{"h":8665,"v":2.55,"lg":-0.73},{"h":8665,"v":2.6,"lg":-0.72},{"h":8665,"v":2.65,"lg":-0.71},{"h":8665,"v":2.7,"lg":-0.7},{"h":8665,"v":2.75,"lg":-0.69},{"h":8665,"v":2.8,"lg":-0.68},{"h":8665,"v":2.85,"lg":-0.67},{"h":8665,"v":2.9,"lg":-0.66},{"h":8665,"v":2.95,"lg":-0.65},{"h":8665,"v":3,"lg":-0.64},{"h":8665,"v":3.05,"lg":-0.63},{"h":8665,"v":3.1,"lg":-0.63},{"h":8665,"v":3.15,"lg":-0.62},{"h":8665,"v":3.2,"lg":-0.61},{"h":8665,"v":3.25,"lg":-0.6},{"h":8665,"v":3.3,"lg":-0.58},{"h":8665,"v":3.35,"lg":-0.55},{"h":8665,"v":3.4,"lg":-0.52},{"h":8665,"v":3.45,"lg":-0.49},{"h":8665,"v":3.5,"lg":-0.45},{"h":8665,"v":3.55,"lg":-0.41},{"h":8665,"v":3.6,"lg":-0.36},{"h":8665,"v":3.65,"lg":-0.31},{"h":8665,"v":3.7,"lg":-0.27},{"h":8665,"v":3.75,"lg":-0.22},{"h":8665,"v":3.8,"lg":-0.16},{"h":8665,"v":3.85,"lg":-0.1},{"h":8665,"v":3.9,"lg":-0.05}
    ]
  },
  "resolve": {"axis": {"x": "independent", "y": "independent"}},
  "layer": [
    {
      "data": {"name": "iv"},
      "mark": {"type": "point", "filled": true, "size": 55, "stroke": "#505050", "strokeWidth": 0.5, "opacity": 1, "clip": true},
      "encoding": {
        "x": {
          "field": "v", "type": "quantitative",
          "scale": {"domain": [0, 4.5], "nice": false, "zero": false},
          "axis": {
            "orient": "bottom", "values": [0, 0.5, 1, 1.5, 2, 2.5, 3, 3.5, 4, 4.5],
            "format": ".1f", "ticks": false, "domain": false, "labelFlush": false, "labelOverlap": false,
            "labelFontSize": 18, "labelPadding": 9,
            "title": "Forward voltage", "titleFontSize": 23, "titleX": 133, "titleY": 53,
            "titleBaseline": "alphabetic", "titleAlign": "left"
          }
        },
        "y": {
          "field": "lg", "type": "quantitative",
          "scale": {"domain": [-12, 0], "nice": false, "zero": false},
          "axis": {
            "orient": "left", "values": [-12, -10, -8, -6, -4, -2, 0],
            "labelExpr": "'10'", "ticks": false, "domain": false, "labelFlush": false, "labelOverlap": false,
            "labelFontSize": 18, "labelBaseline": "middle", "labelAlign": "right", "labelOffset": 4,
            "labelPadding": {"condition": [{"test": "datum.value == 0", "value": 24}, {"test": "datum.value >= -8", "value": 36}], "value": 41},
            "title": "Forward current", "titleFontSize": 23, "titleX": -72, "titleY": 261.5,
            "titleAngle": -90, "titleBaseline": "alphabetic", "titleAlign": "left"
          }
        },
        "color": {
          "field": "h", "type": "ordinal",
          "scale": {
            "domain": [0, 26, 63, 112, 202, 368, 805, 1454, 2987, 4783, 6265, 8665],
            "range": ["#666666", "#717171", "#7c7c7c", "#878787", "#929292", "#9d9d9d", "#a8a8a8", "#b4b4b4", "#c3c3c3", "#d0d0d0", "#dedede", "#ececec"]
          },
          "legend": {
            "orient": "none", "legendX": 427, "legendY": 33, "title": null, "padding": 0,
            "labelExpr": "datum.label + ' h'", "labelFont": "Liberation Serif", "labelFontSize": 16, "labelColor": "black",
            "labelOffset": 9, "rowPadding": 7.6, "symbolType": "circle", "symbolSize": 45,
            "symbolStrokeColor": "#707070", "symbolStrokeWidth": 0.5
          }
        }
      }
    },
    {
      "data": {"values": [{"v": 1.17, "lg": -5.56, "note": "after lens cracking"}]},
      "mark": {"type": "text", "font": "Liberation Serif", "fontStyle": "italic", "fontSize": 17.5, "align": "center", "baseline": "middle", "color": "black"},
      "encoding": {
        "x": {
          "field": "v", "type": "quantitative", "scale": {"domain": [0, 4.5], "nice": false, "zero": false},
          "axis": {
            "orient": "bottom", "labels": false, "ticks": false, "domain": false,
            "title": "V", "titleFontSize": 23, "titleFontStyle": "italic", "titleX": 290, "titleY": 53,
            "titleBaseline": "alphabetic", "titleAlign": "left"
          }
        },
        "y": {
          "field": "lg", "type": "quantitative",
          "scale": {"domain": [-12, 0], "nice": false, "zero": false},
          "axis": {
            "orient": "left", "values": [-12, -10, -8, -6, -4, -2, 0],
            "labelExpr": "format(datum.value, 'd')", "ticks": false, "domain": false, "labelFlush": false, "labelOverlap": false,
            "labelFontSize": 14, "labelBaseline": "middle", "labelAlign": "left", "labelOffset": -6,
            "labelPadding": {"condition": [{"test": "datum.value == 0", "value": 23}, {"test": "datum.value >= -8", "value": 35}], "value": 40},
            "title": "I", "titleFontSize": 23, "titleFontStyle": "italic", "titleX": -72, "titleY": 106.9,
            "titleAngle": -90, "titleBaseline": "alphabetic", "titleAlign": "left"
          }
        },
        "text": {"field": "note"}
      }
    },
    {
      "data": {"values": [{"v": 1.08, "lg": -5.2, "v2": 0.785, "lg2": -4.05}]},
      "mark": {"type": "rule", "color": "black", "strokeWidth": 0.8},
      "encoding": {
        "x": {
          "field": "v", "type": "quantitative", "scale": {"domain": [0, 4.5], "nice": false, "zero": false},
          "axis": {
            "orient": "bottom", "values": [0, 0.25, 0.5, 0.75, 1, 1.25, 1.5, 1.75, 2, 2.25, 2.5, 2.75, 3, 3.25, 3.5, 3.75, 4, 4.25, 4.5],
            "labels": false, "domain": true,
            "tickSize": {"condition": {"test": "datum.value * 2 == round(datum.value * 2)", "value": -5}, "value": -3},
            "title": "f", "titleFontSize": 16, "titleX": 305, "titleY": 57,
            "titleBaseline": "alphabetic", "titleAlign": "left"
          }
        },
        "y": {
          "field": "lg", "type": "quantitative", "scale": {"domain": [-12, 0], "nice": false, "zero": false},
          "axis": {
            "orient": "left",
            "values": [-12,-11.699,-11.523,-11.398,-11.301,-11.222,-11.155,-11.097,-11.046,-11,-10.699,-10.523,-10.398,-10.301,-10.222,-10.155,-10.097,-10.046,-10,-9.699,-9.523,-9.398,-9.301,-9.222,-9.155,-9.097,-9.046,-9,-8.699,-8.523,-8.398,-8.301,-8.222,-8.155,-8.097,-8.046,-8,-7.699,-7.523,-7.398,-7.301,-7.222,-7.155,-7.097,-7.046,-7,-6.699,-6.523,-6.398,-6.301,-6.222,-6.155,-6.097,-6.046,-6,-5.699,-5.523,-5.398,-5.301,-5.222,-5.155,-5.097,-5.046,-5,-4.699,-4.523,-4.398,-4.301,-4.222,-4.155,-4.097,-4.046,-4,-3.699,-3.523,-3.398,-3.301,-3.222,-3.155,-3.097,-3.046,-3,-2.699,-2.523,-2.398,-2.301,-2.222,-2.155,-2.097,-2.046,-2,-1.699,-1.523,-1.398,-1.301,-1.222,-1.155,-1.097,-1.046,-1,-0.699,-0.523,-0.398,-0.301,-0.222,-0.155,-0.097,-0.046,0],
            "labels": false, "domain": true,
            "tickSize": {"condition": {"test": "datum.value == round(datum.value)", "value": -6}, "value": -3},
            "title": "f", "titleFontSize": 16, "titleFontStyle": "italic", "titleX": -68, "titleY": 100,
            "titleAngle": -90, "titleBaseline": "alphabetic", "titleAlign": "left"
          }
        },
        "x2": {"field": "v2"},
        "y2": {"field": "lg2"}
      }
    },
    {
      "data": {"values": [{"v": 0.775, "lg": -4.03}]},
      "mark": {"type": "point", "shape": "triangle-up", "filled": true, "color": "black", "size": 28, "angle": 313, "opacity": 1},
      "encoding": {
        "x": {
          "field": "v", "type": "quantitative", "scale": {"domain": [0, 4.5], "nice": false, "zero": false},
          "axis": {
            "orient": "top", "values": [0, 0.25, 0.5, 0.75, 1, 1.25, 1.5, 1.75, 2, 2.25, 2.5, 2.75, 3, 3.25, 3.5, 3.75, 4, 4.25, 4.5],
            "labels": false, "title": null, "domain": true,
            "tickSize": {"condition": {"test": "datum.value * 2 == round(datum.value * 2)", "value": -5}, "value": -3}
          }
        },
        "y": {
          "field": "lg", "type": "quantitative", "scale": {"domain": [-12, 0], "nice": false, "zero": false},
          "axis": {
            "orient": "right",
            "values": [-12,-11.699,-11.523,-11.398,-11.301,-11.222,-11.155,-11.097,-11.046,-11,-10.699,-10.523,-10.398,-10.301,-10.222,-10.155,-10.097,-10.046,-10,-9.699,-9.523,-9.398,-9.301,-9.222,-9.155,-9.097,-9.046,-9,-8.699,-8.523,-8.398,-8.301,-8.222,-8.155,-8.097,-8.046,-8,-7.699,-7.523,-7.398,-7.301,-7.222,-7.155,-7.097,-7.046,-7,-6.699,-6.523,-6.398,-6.301,-6.222,-6.155,-6.097,-6.046,-6,-5.699,-5.523,-5.398,-5.301,-5.222,-5.155,-5.097,-5.046,-5,-4.699,-4.523,-4.398,-4.301,-4.222,-4.155,-4.097,-4.046,-4,-3.699,-3.523,-3.398,-3.301,-3.222,-3.155,-3.097,-3.046,-3,-2.699,-2.523,-2.398,-2.301,-2.222,-2.155,-2.097,-2.046,-2,-1.699,-1.523,-1.398,-1.301,-1.222,-1.155,-1.097,-1.046,-1,-0.699,-0.523,-0.398,-0.301,-0.222,-0.155,-0.097,-0.046,0],
            "labels": false, "title": null, "domain": true,
            "tickSize": {"condition": {"test": "datum.value == round(datum.value)", "value": -6}, "value": -3}
          }
        }
      }
    },
    {
      "data": {"values": [{"v": 0, "lg": -12}]},
      "mark": {"type": "point", "opacity": 0},
      "encoding": {
        "x": {
          "field": "v", "type": "quantitative", "scale": {"domain": [0, 4.5], "nice": false, "zero": false},
          "axis": {
            "orient": "bottom", "labels": false, "ticks": false, "domain": false,
            "title": "(V)", "titleFontSize": 23, "titleX": 316, "titleY": 53,
            "titleBaseline": "alphabetic", "titleAlign": "left"
          }
        },
        "y": {
          "field": "lg", "type": "quantitative", "scale": {"domain": [-12, 0], "nice": false, "zero": false},
          "axis": {
            "orient": "left", "labels": false, "ticks": false, "domain": false,
            "title": "(A)", "titleFontSize": 23, "titleX": -72, "titleY": 89.8,
            "titleAngle": -90, "titleBaseline": "alphabetic", "titleAlign": "left"
          }
        }
      }
    }
  ],
  "config": {
    "font": "Liberation Serif",
    "view": {"stroke": "black", "strokeWidth": 1},
    "axis": {
      "labelFont": "Liberation Serif", "titleFont": "Liberation Serif", "labelColor": "black", "titleColor": "black",
      "titleFontWeight": "normal", "tickColor": "black", "domainColor": "black", "domainWidth": 1, "tickWidth": 0.8, "grid": false
    }
  }
}
